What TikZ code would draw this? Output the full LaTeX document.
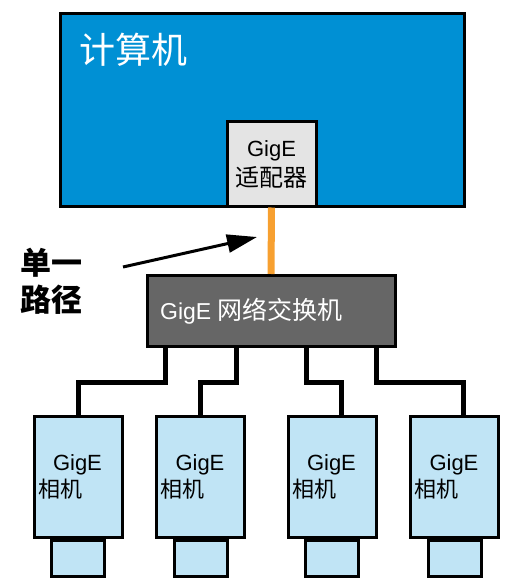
\documentclass[tikz,border=0pt]{standalone}
\usepackage{fontspec}
\setmainfont{Liberation Sans}
\newfontfamily\cjk{Noto Sans CJK SC}
\usetikzlibrary{arrows.meta,positioning}
\definecolor{pcblue}{RGB}{0,144,212}
\definecolor{adgray}{RGB}{228,228,228}
\definecolor{swgray}{RGB}{102,102,102}
\definecolor{camblue}{RGB}{192,228,245}
\definecolor{linkorange}{RGB}{247,160,48}
\tikzset{
  box/.style={draw=black, line width=3pt, rectangle, inner sep=0pt},
  cam/.style={box, fill=camblue, minimum width=88pt, minimum height=121pt,
    align=left, text width=80pt, font=\fontsize{22}{27}\selectfont},
  camtab/.style={box, fill=camblue, minimum width=53pt, minimum height=36pt},
  cable/.style={draw=black, line width=5pt},
}
\begin{document}
\begin{tikzpicture}[x=1pt,y=-1pt]
\useasboundingbox (0,0) rectangle (509,585);
% computer with its adapter
\node [box, fill=pcblue, minimum width=404pt, minimum height=193pt] (pc) at (262,110) {};
\node [anchor=base west, inner sep=0pt, text=white, font=\fontsize{36}{40}\selectfont\cjk] (pclabel) at (79,64) {计算机};
\node [box, fill=adgray, minimum width=89pt, minimum height=84pt, align=center,
  font=\fontsize{22}{30}\selectfont] (adapter) at (271.5,164) {GigE\\{\cjk\fontsize{24}{30}\selectfont 适配器}};
% switch
\node [box, fill=swgray, minimum width=248pt, minimum height=71pt] (sw) at (271,311) {};
\node [anchor=base west, inner sep=0pt, text=white, font=\fontsize{23}{28}\selectfont] (swlabel) at (160,319) {GigE {\cjk\fontsize{25}{28}\selectfont 网络交换机}};
% single path link
\draw [linkorange, line width=7pt] (adapter.south) -- (sw.north);
\node [anchor=north west, inner sep=0pt, align=left, font=\fontsize{31}{37}\selectfont\cjk\bfseries] (path) at (20,248) {单一\\路径};
\coordinate (arrtail) at (123,267);
\coordinate (arrtip) at (257,237);
\draw [line width=3pt, -{Triangle[length=30pt,width=18pt]}] (arrtail) -- (arrtip);
% cameras
\node [cam] (cam1) at (78,476.5) {\hspace*{15pt}GigE\\{\cjk 相机}};
\node [cam] (cam2) at (200.5,476.5) {\hspace*{15pt}GigE\\{\cjk 相机}};
\node [cam] (cam3) at (332,476.5) {\hspace*{15pt}GigE\\{\cjk 相机}};
\node [cam] (cam4) at (454.5,476.5) {\hspace*{15pt}GigE\\{\cjk 相机}};
\node [camtab, below=0pt of cam1] (tab1) {};
\node [camtab, below=0pt of cam2] (tab2) {};
\node [camtab, below=0pt of cam3] (tab3) {};
\node [camtab, below=0pt of cam4] (tab4) {};
% cables from the switch
\draw [cable] ([xshift=-106pt]sw.south) -- ++(0,34) -| (cam1.north);
\draw [cable] ([xshift=-35pt]sw.south) -- ++(0,34) -| (cam2.north);
\draw [cable] ([xshift=35pt]sw.south) -- ++(0,34) -| ([xshift=9pt]cam3.north);
\draw [cable] ([xshift=105pt]sw.south) -- ++(0,34) -| ([xshift=9pt]cam4.north);
\end{tikzpicture}
\end{document}
